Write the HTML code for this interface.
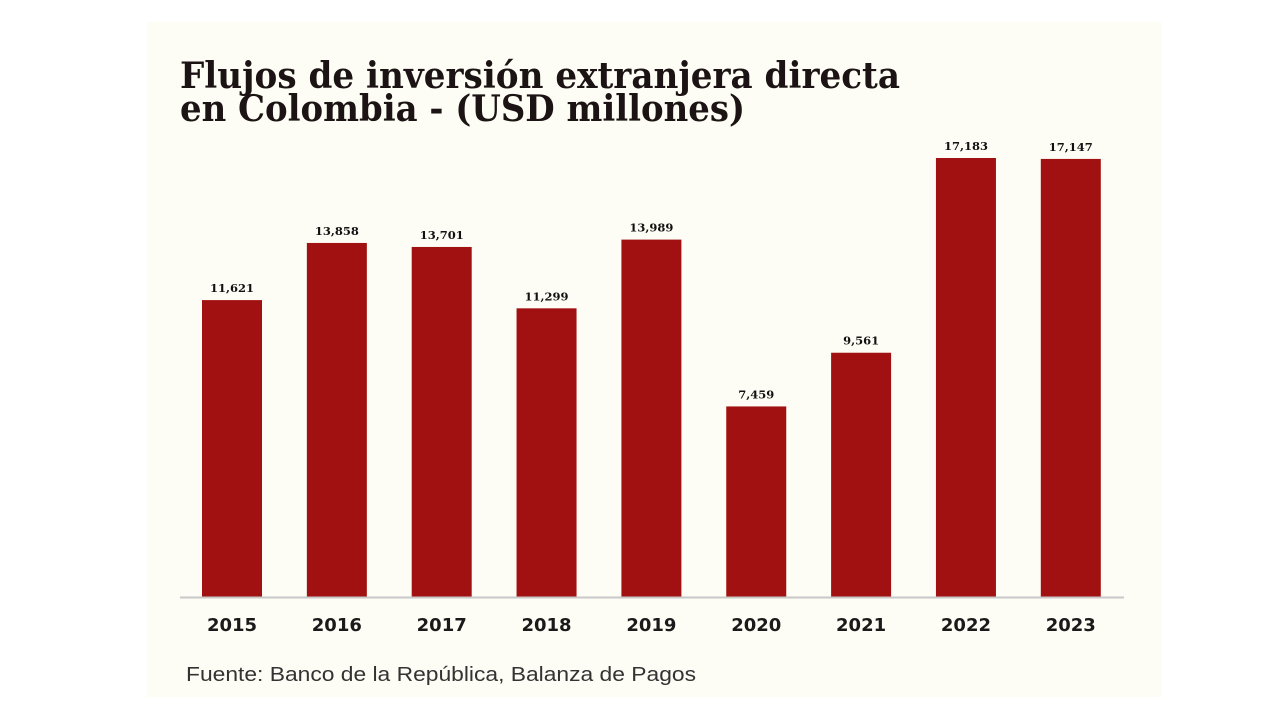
<!DOCTYPE html>
<html><head><meta charset="utf-8"><style>
html,body{margin:0;padding:0;background:#fff;}
svg{display:block;}
</style></head><body>
<svg width="1280" height="720" viewBox="0 0 1280 720">
<rect x="147" y="22" width="1015" height="675" fill="#fefdf5"/>
<text x="180" y="88" font-family="DejaVu Serif, Liberation Serif, serif" font-weight="bold" font-size="36" fill="#1c1414" textLength="720" lengthAdjust="spacingAndGlyphs">Flujos de inversión extranjera directa</text>
<text x="180" y="121" font-family="DejaVu Serif, Liberation Serif, serif" font-weight="bold" font-size="36" fill="#1c1414" textLength="565" lengthAdjust="spacingAndGlyphs">en Colombia - (USD millones)</text>
<g id="bars"></g>
<line x1="180" y1="597.5" x2="1124" y2="597.5" stroke="#c8c8c8" stroke-width="2"/>
<text x="186" y="681" font-family="Liberation Sans, sans-serif" font-size="20" fill="#333" textLength="510" lengthAdjust="spacingAndGlyphs">Fuente: Banco de la República, Balanza de Pagos</text>
</svg>
<script>
const categories = ["2015","2016","2017","2018","2019","2020","2021","2022","2023"];
const values = [11621,13858,13701,11299,13989,7459,9561,17183,17147];
const valueLabels = ["11,621","13,858","13,701","11,299","13,989","7,459","9,561","17,183","17,147"];
const baseY = 597, scale = (597-158)/17183;
const x0 = 202, step = 104.85, bw = 60;
const yOf = v => baseY - v*scale;
const xOf = i => x0 + i*step;
const g = document.getElementById('bars');
const ns = "http://www.w3.org/2000/svg";
categories.forEach((c,i)=>{
  const r = document.createElementNS(ns,'rect');
  r.setAttribute('x', xOf(i)); r.setAttribute('y', yOf(values[i]));
  r.setAttribute('width', bw); r.setAttribute('height', baseY - yOf(values[i]));
  r.setAttribute('fill', '#a11111');
  
  
  g.appendChild(r);
  const t = document.createElementNS(ns,'text');
  t.setAttribute('x', xOf(i)+bw/2); t.setAttribute('y', yOf(values[i])-8);
  t.setAttribute('text-anchor','middle');
  t.setAttribute('font-family','DejaVu Serif, Liberation Serif, serif');
  t.setAttribute('font-weight','bold'); t.setAttribute('font-size','11.5'); t.setAttribute('fill','#111');
  t.textContent = valueLabels[i];
  
  
  g.appendChild(t);
  const y = document.createElementNS(ns,'text');
  y.setAttribute('x', xOf(i)+bw/2); y.setAttribute('y', 631);
  y.setAttribute('text-anchor','middle');
  y.setAttribute('font-family','DejaVu Sans, Liberation Sans, sans-serif');
  y.setAttribute('font-weight','bold'); y.setAttribute('font-size','18'); y.setAttribute('fill','#1a1a1a');
  y.textContent = c;
  
  
  g.appendChild(y);
});
</script>
</body></html>
